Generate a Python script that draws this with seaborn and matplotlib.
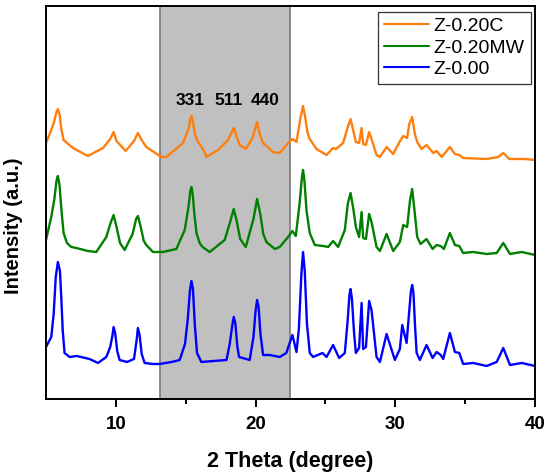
import pandas as pd
import seaborn as sns
import matplotlib.pyplot as plt

# Z-0.00 (bottom trace)
theta_z000 = [5.0, 5.38, 5.55, 5.7, 5.85, 6.0, 6.1, 6.2, 6.33, 6.69, 7.2, 8.12, 8.72, 9.32, 9.6, 9.75,
              9.84, 9.95, 10.1, 10.27, 10.8, 11.3, 11.48, 11.58, 11.7, 11.85, 12.06, 12.66, 13.14,
              14.0, 14.57, 14.95, 15.15, 15.3, 15.41, 15.52, 15.65, 15.81, 16.12, 17.0, 17.92,
              18.15, 18.35, 18.44, 18.55, 18.7, 18.82, 19.58, 19.85, 20.0, 20.11, 20.22, 20.35,
              20.54, 21.02, 21.73, 22.2, 22.64, 22.93, 23.1, 23.28, 23.4, 23.52, 23.68, 23.88,
              24.12, 24.79, 25.08, 25.55, 25.98, 26.39, 26.6, 26.72, 26.8, 26.9, 27.05, 27.18,
              27.41, 27.59, 27.7, 27.9, 28.13, 28.3, 28.66, 28.9, 29.38, 29.97, 30.33, 30.5, 30.81,
              31.0, 31.12, 31.21, 31.3, 31.42, 31.53, 31.76, 32.24, 32.67, 32.96, 33.25, 33.43,
              33.91, 34.27, 34.58, 34.86, 35.58, 36.54, 37.26, 37.73, 38.21, 39.05, 40.0]
int_z000 = [52, 62, 85, 122, 137, 128, 100, 68, 46, 42, 43, 40, 36, 42, 52, 63,
            72, 66, 48, 39, 37, 40, 58, 71, 64, 45, 36, 35, 35,
            37, 39, 55, 80, 108, 118, 110, 75, 46, 37, 38, 39,
            55, 75, 82, 76, 52, 42, 39, 62, 88, 99, 92, 65,
            44, 44, 42, 46, 64, 47, 70, 125, 147, 128, 75, 46,
            42, 46, 42, 54, 41, 46, 80, 104, 110, 100, 66, 46,
            51, 96, 50, 52, 98, 89, 42, 37, 65, 39, 50, 74, 56,
            88, 108, 114, 106, 72, 46, 39, 54, 41, 47, 44, 40,
            66, 47, 46, 35, 36, 33, 37, 51, 34, 36, 33]

# Z-0.20MW (middle trace)
theta_z020mw = [5.0, 5.38, 5.6, 5.75, 5.85, 5.97, 6.1, 6.26, 6.5, 6.81, 7.17, 8.0, 8.6, 9.32, 9.6,
                9.84, 10.05, 10.3, 10.63, 11.2, 11.45, 11.58, 11.75, 12.0, 12.18, 12.66, 13.37,
                14.33, 14.93, 15.2, 15.33, 15.41, 15.5, 15.62, 15.77, 16.0, 16.2, 16.72, 17.79,
                18.2, 18.44, 18.65, 18.9, 19.3, 19.85, 20.11, 20.35, 20.55, 20.78, 21.38, 21.73,
                22.33, 22.64, 22.88, 23.15, 23.32, 23.4, 23.5, 23.65, 23.88, 24.24, 24.84, 25.2,
                25.55, 25.91, 26.39, 26.6, 26.8, 27.0, 27.18, 27.41, 27.59, 27.7, 27.9, 28.13,
                28.3, 28.66, 28.9, 29.38, 29.85, 30.33, 30.57, 30.85, 31.05, 31.21, 31.35, 31.57,
                31.81, 32.24, 32.67, 32.96, 33.25, 33.48, 33.91, 34.27, 34.58, 34.86, 35.58,
                36.54, 37.26, 37.73, 38.21, 39.05, 40.0]
int_z020mw = [159, 182, 200, 218, 223, 214, 190, 166, 156, 152, 151, 148, 147, 162, 175,
              184, 172, 156, 149, 165, 180, 183, 174, 158, 154, 147, 147,
              150, 169, 192, 208, 212, 205, 185, 166, 156, 152, 147, 159,
              178, 190, 178, 160, 152, 180, 200, 184, 165, 157, 150, 152,
              162, 168, 163, 195, 222, 229, 218, 188, 166, 154, 153, 152,
              158, 152, 169, 195, 206, 190, 172, 162, 187, 161, 160, 185,
              177, 152, 148, 165, 148, 157, 174, 172, 198, 210, 192, 162,
              155, 160, 150, 154, 153, 150, 166, 154, 153, 146, 147,
              145, 146, 156, 145, 147, 144]

# Z-0.20C (top trace)
theta_z020c = [5.0, 5.38, 5.6, 5.75, 5.85, 5.98, 6.1, 6.26, 6.93, 8.0, 9.08, 9.6, 9.84, 10.05, 10.7,
               11.3, 11.58, 11.8, 12.18, 13.26, 13.62, 14.81, 15.2, 15.33, 15.41, 15.5, 15.65,
               15.81, 16.36, 16.48, 17.31, 18.03, 18.44, 18.65, 18.87, 19.3, 19.78, 20.11, 20.3,
               20.54, 21.25, 21.73, 22.33, 22.64, 22.93, 23.2, 23.4, 23.55, 23.7, 23.83, 24.36,
               25.08, 25.55, 25.75, 26.27, 26.6, 26.8, 27.0, 27.18, 27.41, 27.59, 27.7, 27.9,
               28.13, 28.3, 28.66, 28.9, 29.38, 29.85, 30.38, 30.57, 30.85, 31.0, 31.21, 31.4,
               31.57, 31.88, 32.24, 32.72, 32.96, 33.32, 33.91, 34.27, 34.58, 34.86, 36.54, 37.37,
               37.73, 38.16, 39.28, 40.0]
int_z020c = [256, 269, 278, 287, 290, 284, 270, 259, 251, 243, 251, 260, 267, 258, 248,
             258, 266, 260, 252, 242, 242, 256, 270, 280, 283, 278, 266,
             259, 247, 242, 249, 259, 271, 262, 254, 250, 261, 277, 265,
             256, 247, 246, 256, 260, 257, 280, 293, 282, 268, 261, 250,
             244, 251, 250, 256, 272, 280, 268, 257, 256, 271, 255, 254,
             267, 260, 244, 242, 252, 245, 259, 263, 261, 275, 282, 265,
             257, 250, 254, 246, 248, 242, 252, 245, 244, 241, 240, 242,
             246, 240, 240, 239]

samples = ['Z-0.20C', 'Z-0.20MW', 'Z-0.00']
colors = ['#ff7f0e', '#008000', '#0000ff']

peak_labels = ['331', '511', '440']
peak_label_x = [15.34, 18.08, 20.66]
peak_label_y = 298

shade_start, shade_end = 13.17, 22.5

df = pd.concat([
    pd.DataFrame({'two_theta': theta_z020c, 'intensity': int_z020c, 'sample': 'Z-0.20C'}),
    pd.DataFrame({'two_theta': theta_z020mw, 'intensity': int_z020mw, 'sample': 'Z-0.20MW'}),
    pd.DataFrame({'two_theta': theta_z000, 'intensity': int_z000, 'sample': 'Z-0.00'}),
])

sns.set_style('ticks')
plt.rcParams['font.family'] = ['Liberation Sans', 'DejaVu Sans']
plt.rcParams['text.color'] = 'black'
plt.rcParams['axes.labelcolor'] = 'black'
plt.rcParams['xtick.color'] = 'black'

fig, ax = plt.subplots(figsize=(5.5, 4.76), dpi=100)
fig.subplots_adjust(left=0.0836, right=0.9727, top=0.9874, bottom=0.1618)

ax.axvspan(shade_start, shade_end, facecolor='#c0c0c0', edgecolor='#7a7a7a', lw=1.2, zorder=0)

sns.lineplot(data=df, x='two_theta', y='intensity', hue='sample', hue_order=samples,
             palette=colors, estimator=None, sort=False, lw=1.7, ax=ax)

for lab, xx in zip(peak_labels, peak_label_x):
    ax.text(xx, peak_label_y, lab, ha='center', va='center', fontsize=12.5, fontweight='bold')

ax.set_xlim(5, 40)
ax.set_ylim(0, 393)
ax.set_xticks([10, 20, 30, 40])
ax.set_xticks([15, 25, 35], minor=True)
ax.set_yticks([])
ax.tick_params(axis='x', which='major', direction='out', length=6, width=1.4, labelsize=13.5, pad=6.5)
ax.tick_params(axis='x', which='minor', direction='out', length=3.5, width=1.4)
for lab in ax.get_xticklabels():
    lab.set_fontweight('bold')
for sp in ax.spines.values():
    sp.set_linewidth(1.4)
    sp.set_color('black')

ax.set_xlabel('2 Theta (degree)', fontsize=15.5, fontweight='bold', labelpad=13)
ax.set_ylabel('Intensity (a.u.)', fontsize=14.5, fontweight='bold')
ax.yaxis.set_label_coords(-0.046, 0.44)

sns.move_legend(ax, 'upper right', bbox_to_anchor=(0.991, 0.9855), borderaxespad=0, title=None,
                frameon=True, fancybox=False, framealpha=1, edgecolor='#333333', fontsize=14,
                handlelength=2.3, handletextpad=0.25, labelspacing=0.2, borderpad=0.3)
ax.get_legend().get_frame().set_linewidth(0.9)
for line in ax.get_legend().get_lines():
    line.set_linewidth(1.5)

fig.savefig('out.png', dpi=100)
